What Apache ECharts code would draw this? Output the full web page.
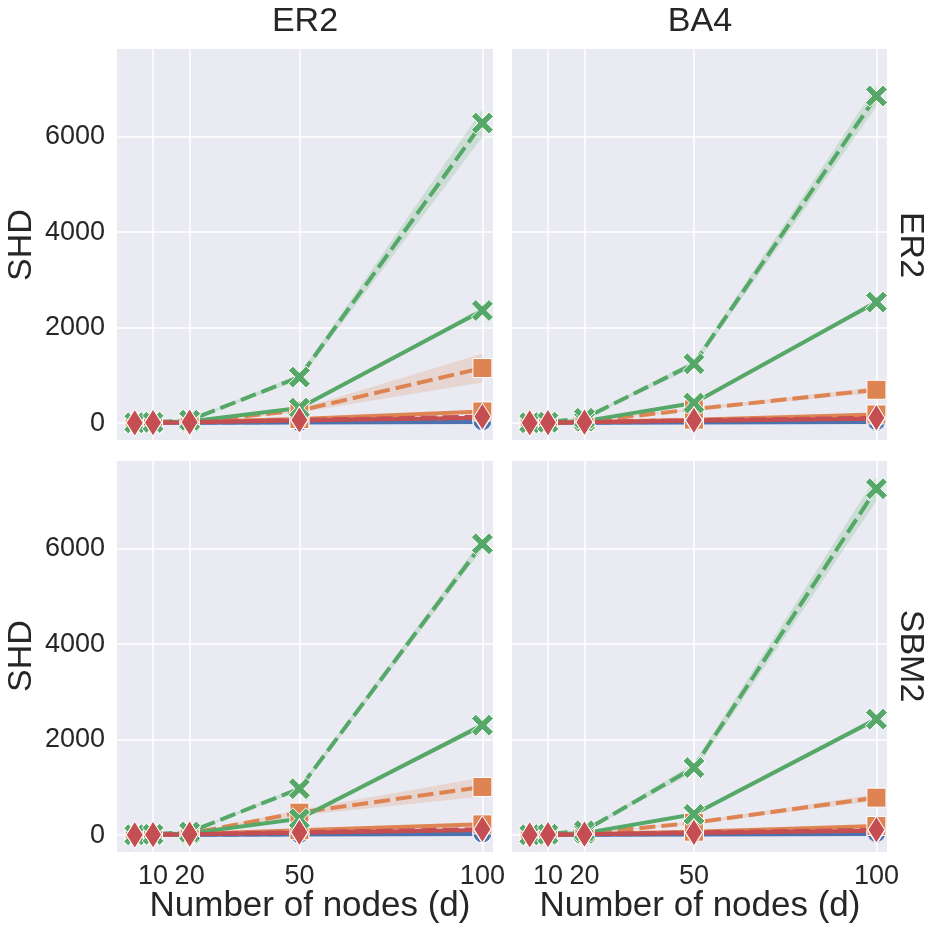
<!DOCTYPE html>
<html><head><meta charset="utf-8">
<script src="https://cdn.jsdelivr.net/npm/echarts@6/dist/echarts.min.js"></script>
<style>html,body{margin:0;padding:0;background:#fff}#c{width:935px;height:934px}</style>
</head><body><div id="c"></div>
<script>
// ---------- data ----------
const nodes = [5, 10, 20, 50, 100];
const xTicks = [10, 20, 50, 100];
const yTicks = [0, 2000, 4000, 6000];
const colTitles = ['ER2', 'BA4'];
const rowTitles = ['ER2', 'SBM2'];
const yName = 'SHD';
const xName = 'Number of nodes (d)';

// panel row ER2, col ER2
const tl_blueSolid    = [1, 3, 6, 12, 20];
const tl_blueDashed   = [2, 4, 9, 22, 40];
const tl_orangeSolid  = [3, 8, 20, 85, 243];
const tl_orangeDashed = [4, 10, 30, 260, 1152];
const tl_greenSolid   = [4, 11, 35, 314, 2358];
const tl_greenDashed  = [6, 16, 60, 963, 6283];
const tl_redSolid     = [3, 7, 15, 55, 110];
const tl_redDashed    = [4, 9, 20, 65, 135];
const tl_ci_orangeSolid  = [1, 2, 4, 10, 30];
const tl_ci_orangeDashed = [2, 3, 8, 40, 300];
const tl_ci_greenSolid   = [1, 2, 5, 20, 60];
const tl_ci_greenDashed  = [2, 4, 10, 60, 290];

// panel row ER2, col BA4
const tr_blueSolid    = [1, 3, 6, 12, 20];
const tr_blueDashed   = [2, 5, 10, 25, 45];
const tr_orangeSolid  = [3, 8, 20, 70, 180];
const tr_orangeDashed = [4, 10, 30, 290, 697];
const tr_greenSolid   = [5, 12, 40, 419, 2533];
const tr_greenDashed  = [7, 18, 100, 1241, 6851];
const tr_redSolid     = [3, 7, 15, 50, 90];
const tr_redDashed    = [4, 9, 20, 60, 110];
const tr_ci_orangeSolid  = [1, 2, 3, 8, 20];
const tr_ci_orangeDashed = [1, 2, 5, 25, 60];
const tr_ci_greenSolid   = [1, 2, 5, 20, 50];
const tr_ci_greenDashed  = [2, 4, 15, 70, 220];

// panel row SBM2, col ER2
const bl_blueSolid    = [1, 3, 6, 12, 20];
const bl_blueDashed   = [2, 4, 9, 20, 35];
const bl_orangeSolid  = [3, 8, 20, 100, 224];
const bl_orangeDashed = [4, 10, 35, 470, 1007];
const bl_greenSolid   = [4, 11, 35, 342, 2302];
const bl_greenDashed  = [6, 16, 65, 972, 6101];
const bl_redSolid     = [3, 7, 15, 50, 105];
const bl_redDashed    = [4, 9, 20, 60, 125];
const bl_ci_orangeSolid  = [1, 2, 4, 10, 30];
const bl_ci_orangeDashed = [2, 3, 8, 60, 200];
const bl_ci_greenSolid   = [1, 2, 5, 20, 60];
const bl_ci_greenDashed  = [2, 4, 10, 50, 110];

// panel row SBM2, col BA4
const br_blueSolid    = [1, 3, 6, 12, 20];
const br_blueDashed   = [2, 5, 10, 25, 45];
const br_orangeSolid  = [3, 8, 20, 70, 189];
const br_orangeDashed = [4, 10, 30, 258, 783];
const br_greenSolid   = [5, 12, 40, 434, 2428];
const br_greenDashed  = [7, 18, 90, 1413, 7255];
const br_redSolid     = [3, 7, 15, 45, 90];
const br_redDashed    = [4, 9, 20, 55, 110];
const br_ci_orangeSolid  = [1, 2, 3, 8, 20];
const br_ci_orangeDashed = [1, 2, 5, 25, 70];
const br_ci_greenSolid   = [1, 2, 5, 20, 50];
const br_ci_greenDashed  = [2, 4, 15, 90, 260];

// ---------- styling ----------
const FONT = '"Liberation Sans", Arial, Helvetica, sans-serif';
const TXT = '#262626';
const BG = '#EAEAF2';
const colors = { blue: '#4C72B0', orange: '#DD8452', green: '#55A868', red: '#C44E52' };
const bandColors = { blue: 'rgba(76,114,176,0.2)', orange: 'rgba(221,132,82,0.2)', green: 'rgba(85,168,104,0.2)', red: 'rgba(196,78,82,0.2)' };
const XPATH = 'path://M2,0L5,3L8,0L10,2L7,5L10,8L8,10L5,7L2,10L0,8L3,5L0,2Z';
const symbols = { blue: ['circle', 19], orange: ['rect', 19], green: [XPATH, 22], red: ['diamond', [17, 27]] };

const grids = [
  { left: 117, top: 49, width: 376, height: 391 },
  { left: 512, top: 49, width: 375, height: 391 },
  { left: 117, top: 461, width: 376, height: 391 },
  { left: 512, top: 461, width: 375, height: 391 }
];

const panels = [
  { blueSolid: tl_blueSolid, blueDashed: tl_blueDashed, orangeSolid: tl_orangeSolid, orangeDashed: tl_orangeDashed,
    greenSolid: tl_greenSolid, greenDashed: tl_greenDashed, redSolid: tl_redSolid, redDashed: tl_redDashed,
    ci: { orangeSolid: tl_ci_orangeSolid, orangeDashed: tl_ci_orangeDashed, greenSolid: tl_ci_greenSolid, greenDashed: tl_ci_greenDashed } },
  { blueSolid: tr_blueSolid, blueDashed: tr_blueDashed, orangeSolid: tr_orangeSolid, orangeDashed: tr_orangeDashed,
    greenSolid: tr_greenSolid, greenDashed: tr_greenDashed, redSolid: tr_redSolid, redDashed: tr_redDashed,
    ci: { orangeSolid: tr_ci_orangeSolid, orangeDashed: tr_ci_orangeDashed, greenSolid: tr_ci_greenSolid, greenDashed: tr_ci_greenDashed } },
  { blueSolid: bl_blueSolid, blueDashed: bl_blueDashed, orangeSolid: bl_orangeSolid, orangeDashed: bl_orangeDashed,
    greenSolid: bl_greenSolid, greenDashed: bl_greenDashed, redSolid: bl_redSolid, redDashed: bl_redDashed,
    ci: { orangeSolid: bl_ci_orangeSolid, orangeDashed: bl_ci_orangeDashed, greenSolid: bl_ci_greenSolid, greenDashed: bl_ci_greenDashed } },
  { blueSolid: br_blueSolid, blueDashed: br_blueDashed, orangeSolid: br_orangeSolid, orangeDashed: br_orangeDashed,
    greenSolid: br_greenSolid, greenDashed: br_greenDashed, redSolid: br_redSolid, redDashed: br_redDashed,
    ci: { orangeSolid: br_ci_orangeSolid, orangeDashed: br_ci_orangeDashed, greenSolid: br_ci_greenSolid, greenDashed: br_ci_greenDashed } }
];

const xAxes = [], yAxes = [], series = [];
grids.forEach((g, gi) => {
  const bottom = gi >= 2, left = gi % 2 === 0;
  xAxes.push({
    type: 'value', gridIndex: gi, min: 0.15, max: 102.9,
    axisLine: { show: false }, axisTick: { show: false, customValues: xTicks },
    axisLabel: { show: bottom, customValues: xTicks, color: TXT, fontSize: 27, fontFamily: FONT, margin: 11,
      formatter: v => String(v) },
    splitLine: { show: true, lineStyle: { color: '#fff', width: 1.5 } }
  });
  yAxes.push({
    type: 'value', gridIndex: gi, min: -355, max: 7835,
    axisLine: { show: false }, axisTick: { show: false, customValues: yTicks },
    axisLabel: { show: left, customValues: yTicks, color: TXT, fontSize: 27, fontFamily: FONT, margin: 12,
      formatter: v => String(v) },
    splitLine: { show: true, lineStyle: { color: '#fff', width: 1.5 } }
  });
});

function band(gi, mean, ci, color) {
  const pts = nodes.map((x, i) => [x, mean[i] - ci[i], mean[i] + ci[i]]);
  return {
    type: 'custom', xAxisIndex: gi, yAxisIndex: gi, silent: true, clip: true,
    encode: { x: 0, y: [1, 2] }, data: pts,
    renderItem: function (params, api) {
      if (params.dataIndex !== 0) return null;
      const up = pts.map(p => api.coord([p[0], p[2]]));
      const dn = pts.map(p => api.coord([p[0], p[1]])).reverse();
      return { type: 'polygon', shape: { points: up.concat(dn) }, style: { fill: color } };
    }
  };
}

const hues = ['blue', 'orange', 'green', 'red'];
panels.forEach((p, gi) => {
  hues.forEach(h => {
    ['Solid', 'Dashed'].forEach(st => {
      const key = h + st;
      const vals = p[key];
      if (p.ci[key]) series.push(band(gi, vals, p.ci[key], bandColors[h]));
      series.push({
        type: 'line', xAxisIndex: gi, yAxisIndex: gi, clip: true,
        data: nodes.map((x, i) => [x, vals[i]]),
        showSymbol: true, symbol: symbols[h][0], symbolSize: symbols[h][1],
        lineStyle: { color: colors[h], width: 4, type: st === 'Dashed' ? [16, 6] : 'solid' },
        itemStyle: { color: colors[h], borderColor: '#fff', borderWidth: 1, opacity: 1 },
        emphasis: { disabled: true }, silent: true
      });
    });
  });
});

function txt(x, y, text, rot, size) {
  return { type: 'text', x: x, y: y, rotation: rot || 0, silent: true,
    style: { text: text, fill: TXT, font: (size || 34) + 'px ' + FONT, align: 'center', verticalAlign: 'middle', textAlign: 'center', textVerticalAlign: 'middle' } };
}
const graphics = [
  txt(305, 22, colTitles[0]), txt(700, 22, colTitles[1]),
  txt(910, 245, rowTitles[0], -Math.PI / 2), txt(910, 656, rowTitles[1], -Math.PI / 2),
  txt(22, 245, yName, Math.PI / 2), txt(22, 656, yName, Math.PI / 2),
  txt(310, 906, xName, 0, 35), txt(700, 906, xName, 0, 35)
];

const chart = echarts.init(document.getElementById('c'), null, { renderer: 'canvas' });
chart.setOption({
  animation: false,
  backgroundColor: '#fff',
  grid: grids.map(g => Object.assign({ show: true, backgroundColor: BG, borderWidth: 0, containLabel: false }, g)),
  xAxis: xAxes, yAxis: yAxes, series: series, graphic: graphics
});
</script></body></html>
